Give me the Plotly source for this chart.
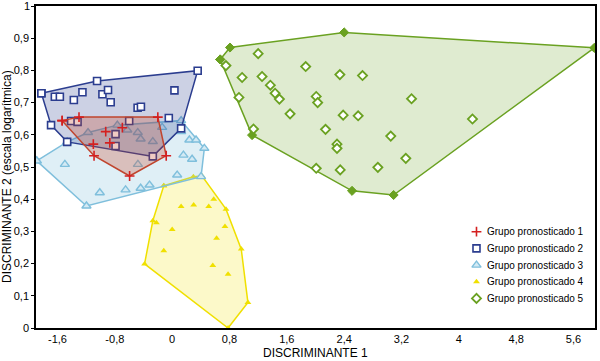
import plotly.graph_objects as go

# ---------------- data ----------------
group_names = ["Grupo pronosticado 1", "Grupo pronosticado 2", "Grupo pronosticado 3",
               "Grupo pronosticado 4", "Grupo pronosticado 5"]

# hull vertices (in order) and interior points for each group
g1_hull_x = [-1.535, -1.30, -0.20, -0.083, -0.594, -1.09]
g1_hull_y = [0.644, 0.655, 0.655, 0.535, 0.472, 0.535]
g1_pts_x = [-0.927, -1.10, -0.87, -0.695]
g1_pts_y = [0.610, 0.571, 0.575, 0.622]

g2_hull_x = [-1.825, -1.048, 0.356, 0.125, -0.27, -1.465, -1.69]
g2_hull_y = [0.729, 0.767, 0.799, 0.620, 0.533, 0.578, 0.630]
g2_pts_x = [-1.637, -1.567, -1.372, -1.252, -0.973, -0.895, -0.858, -0.482, -0.436,
            0.032, -1.41, -1.32, -0.60, -0.047, -0.79, -0.79]
g2_pts_y = [0.718, 0.718, 0.708, 0.732, 0.726, 0.739, 0.701, 0.684, 0.687,
            0.738, 0.643, 0.640, 0.643, 0.652, 0.602, 0.565]

g3_hull_x = [-1.89, -1.465, -1.174, -0.765, 0.125, 0.449, 0.403, -1.196]
g3_hull_y = [0.519, 0.578, 0.607, 0.630, 0.644, 0.558, 0.470, 0.379]
g3_pts_x = [-1.497, -1.01, -0.65, -0.44, -0.316, 0.07, -0.48, -0.44, -0.27, -0.14,
            0.125, 0.24, 0.333, 0.157, 0.278, -0.478, -0.626]
g3_pts_y = [0.508, 0.420, 0.429, 0.434, 0.444, 0.475, 0.607, 0.587, 0.579, 0.623,
            0.610, 0.584, 0.584, 0.537, 0.524, 0.508, 0.615]

g4_hull_x = [-0.117, 0.296, 0.417, 0.751, 0.964, 1.057, 0.78, -0.385, -0.27]
g4_hull_y = [0.442, 0.470, 0.472, 0.369, 0.245, 0.079, 0.0, 0.199, 0.333]
g4_pts_x = [0.125, 0.30, 0.51, 0.58, -0.22, 0.0, 0.737, 0.62, -0.117, 0.567, 0.78]
g4_pts_y = [0.377, 0.382, 0.377, 0.400, 0.327, 0.306, 0.315, 0.279, 0.240, 0.194, 0.167]

g5_hull_x = [0.67, 0.807, 2.40, 5.89, 3.09, 2.51, 1.115]
g5_hull_y = [0.834, 0.871, 0.918, 0.870, 0.413, 0.426, 0.599]
g5_pts_x = [1.20, 0.75, 0.976, 1.254, 1.37, 1.436, 1.496, 1.863, 2.34, 2.656, 0.932,
            1.645, 2.01, 2.03, 2.386, 2.595, 1.135, 2.14, 2.30, 2.30, 3.05, 3.26,
            2.01, 2.345, 2.87, 3.34, 4.19]
g5_pts_y = [0.852, 0.815, 0.778, 0.781, 0.754, 0.729, 0.711, 0.812, 0.787, 0.784, 0.716,
            0.665, 0.719, 0.700, 0.661, 0.659, 0.618, 0.617, 0.571, 0.558, 0.596, 0.527,
            0.496, 0.491, 0.499, 0.712, 0.649]

x_tick_vals = [-1.6, -0.8, 0, 0.8, 1.6, 2.4, 3.2, 4, 4.8, 5.6]
x_tick_text = ["-1,6", "-0,8", "0", "0,8", "1,6", "2,4", "3,2", "4", "4,8", "5,6"]
y_tick_vals = [0, 0.1, 0.2, 0.3, 0.4, 0.5, 0.6, 0.7, 0.8, 0.9, 1]
y_tick_text = ["0", "0,1", "0,2", "0,3", "0,4", "0,5", "0,6", "0,7", "0,8", "0,9", "1"]

# ---------------- styles ----------------
styles = {
    1: dict(line="#c0452e", fill="rgba(200,70,40,0.28)",
            marker=dict(symbol="cross-thin", size=7, line=dict(color="#d42020", width=1.6)),
            vmarker=dict(symbol="cross-thin", size=7, line=dict(color="#d42020", width=1.6))),
    2: dict(line="#2b3d8f", fill="rgba(43,61,143,0.24)",
            marker=dict(symbol="square", size=7, color="white", line=dict(color="#2b3d8f", width=1.6)),
            vmarker=dict(symbol="square", size=7, color="white", line=dict(color="#2b3d8f", width=1.6))),
    3: dict(line="#7fbfdc", fill="rgba(127,191,220,0.25)",
            marker=dict(symbol="triangle-up", size=8, color="#d4eaf4", line=dict(color="#7fbfdc", width=1.4)),
            vmarker=dict(symbol="triangle-up", size=8, color="#d4eaf4", line=dict(color="#7fbfdc", width=1.4))),
    4: dict(line="#f0e000", fill="rgba(244,232,40,0.25)",
            marker=dict(symbol="triangle-up", size=6, color="#f0e000", line=dict(width=0)),
            vmarker=dict(symbol="triangle-up", size=6, color="#f0e000", line=dict(width=0))),
    5: dict(line="#6aa121", fill="rgba(106,161,33,0.21)",
            marker=dict(symbol="diamond", size=7, color="white", line=dict(color="#6aa121", width=1.8)),
            vmarker=dict(symbol="diamond", size=7, color="#6aa121", line=dict(color="#6aa121", width=1))),
}

groups = {
    1: (g1_hull_x, g1_hull_y, g1_pts_x, g1_pts_y),
    2: (g2_hull_x, g2_hull_y, g2_pts_x, g2_pts_y),
    3: (g3_hull_x, g3_hull_y, g3_pts_x, g3_pts_y),
    4: (g4_hull_x, g4_hull_y, g4_pts_x, g4_pts_y),
    5: (g5_hull_x, g5_hull_y, g5_pts_x, g5_pts_y),
}

fig = go.Figure()

for g in [5, 4, 3, 2, 1]:
    hx, hy, px, py = groups[g]
    st = styles[g]
    fig.add_trace(go.Scatter(
        x=hx + hx[:1], y=hy + hy[:1], mode="lines+markers", fill="toself",
        fillcolor=st["fill"], line=dict(color=st["line"], width=1.5),
        marker=st["vmarker"], showlegend=False, hoverinfo="skip"))
    fig.add_trace(go.Scatter(
        x=px, y=py, mode="markers", marker=st["marker"], showlegend=False))

font_family = "Liberation Sans, Arial, sans-serif"

# ---- manual legend (compact spacing), placed on an overlay axis spanning the plot area ----
leg_sym_x = 0.788
leg_txt_x = 0.804
leg_top = 0.299
leg_step = 0.0518
annotations = []
for i, g in enumerate([1, 2, 3, 4, 5]):
    st = styles[g]
    yy = leg_top - i * leg_step
    fig.add_trace(go.Scatter(x=[leg_sym_x], y=[yy], xaxis="x2", yaxis="y2",
                             mode="markers", marker=st["marker"], showlegend=False,
                             hoverinfo="skip"))
    annotations.append(dict(text=group_names[g - 1], xref="paper", yref="paper",
                            x=leg_txt_x, y=yy, xanchor="left", yanchor="middle",
                            showarrow=False, font=dict(size=10, family=font_family)))

# top y tick label, drawn as paper text (plotly drops it at the page's top edge)
annotations.append(dict(text=y_tick_text[-1], xref="paper", yref="paper", x=0, y=1,
                        xanchor="right", yanchor="middle", xshift=-4, showarrow=False,
                        font=dict(size=11, family=font_family)))

annotations += [
    dict(text="DISCRIMINANTE 1", xref="paper", yref="paper", x=0.5, y=-0.079,
         xanchor="center", yanchor="middle", showarrow=False,
         font=dict(size=12, family=font_family)),
    dict(text="DISCRIMINANTE 2 (escala logarítmica)", xref="paper", yref="paper",
         x=-0.053, y=0.47, xanchor="center", yanchor="middle", textangle=-90,
         showarrow=False, font=dict(size=12, family=font_family)),
]

fig.update_layout(
    width=600, height=361,
    margin=dict(l=36, r=3, t=6, b=33),
    paper_bgcolor="white", plot_bgcolor="white",
    font=dict(family=font_family, size=11, color="black"),
    showlegend=False,
    xaxis=dict(range=[-1.9, 5.9], tickvals=x_tick_vals, ticktext=x_tick_text,
               showgrid=False, zeroline=False, showline=True, linecolor="black",
               linewidth=1.5, mirror=True, ticks="", ticklabelstandoff=0,
               tickfont=dict(size=11)),
    yaxis=dict(range=[0, 1], tickvals=y_tick_vals, ticktext=y_tick_text[:-1] + [""],
               showgrid=False, zeroline=False, showline=True, linecolor="black",
               linewidth=1.5, mirror=True, ticks="outside", ticklen=3,
               tickcolor="black", tickfont=dict(size=11)),
    xaxis2=dict(range=[0, 1], overlaying="x", visible=False, fixedrange=True),
    yaxis2=dict(range=[0, 1], overlaying="y", visible=False, fixedrange=True),
    annotations=annotations,
)

fig.write_html("out.html", config={"displayModeBar": False},
               post_script="document.body.style.margin='0';document.body.style.padding='0';")
